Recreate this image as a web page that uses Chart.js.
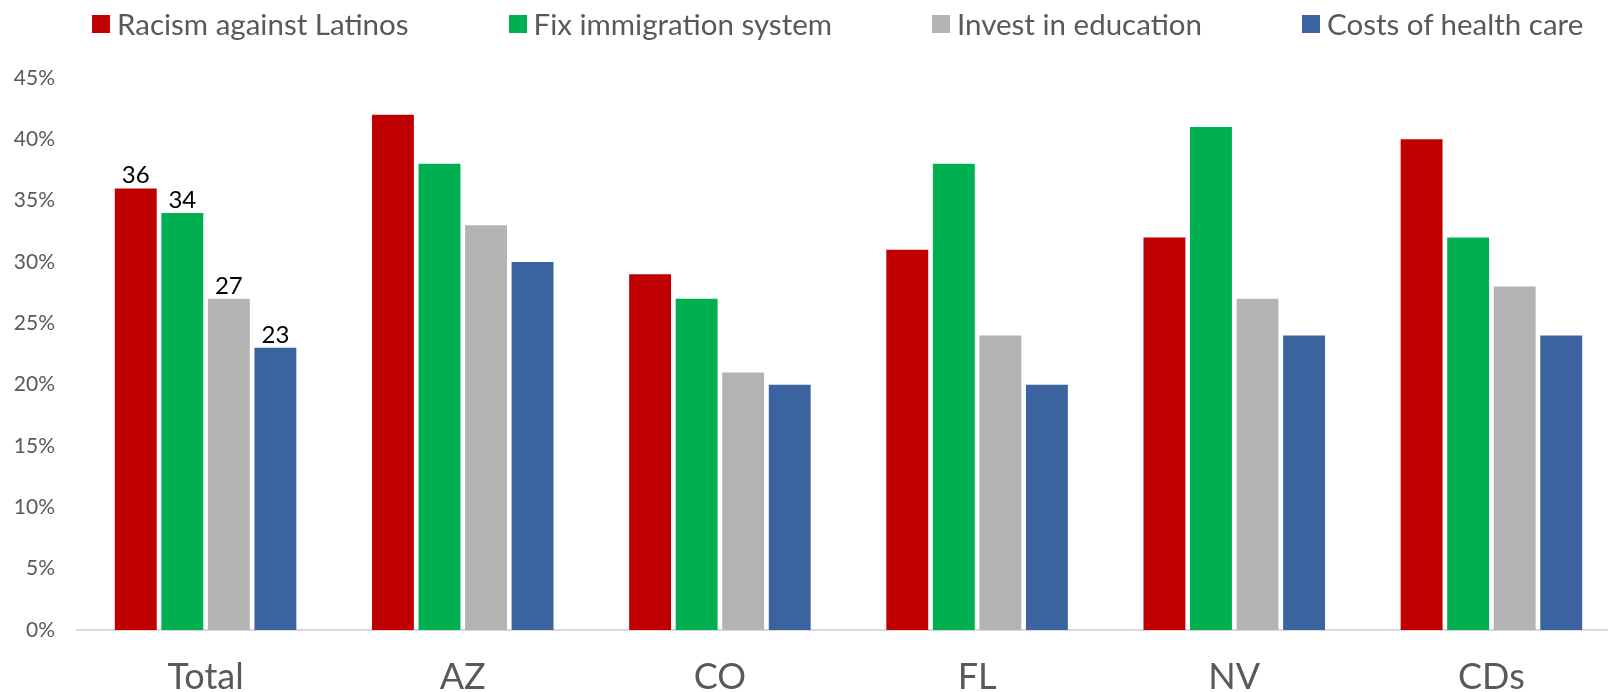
<!DOCTYPE html>
<html lang="en">

<head>
    <meta charset="UTF-8">
    <title>Priority issues</title>
    <style>
        body {
            margin: 0;
            background: #fff;
            font-family: Lato, "Open Sans", sans-serif;
        }

        /* the source picture cuts the plot off a little on the right */
        #wrap {
            position: relative;
            width: 1608px;
            height: 692px;
            overflow: hidden;
        }

        #legend {
            position: absolute;
            top: 6px;
            left: 92px;
            display: flex;
            gap: 100px;
            color: #595959;
            font-size: 29.5px;
            line-height: 36px;
            white-space: nowrap;
        }

        #legend .item {
            display: flex;
            align-items: center;
        }

        #legend .box {
            width: 18px;
            height: 18px;
            margin-right: 7px;
        }
    </style>
    <script src="https://cdn.jsdelivr.net/npm/chart.js"></script>
</head>

<body>
    <div id="wrap">
        <div id="legend"></div>
        <canvas id="chart" width="1620" height="692"></canvas>
    </div>

    <script>
        const categories = ['Total', 'AZ', 'CO', 'FL', 'NV', 'CDs'];
        const seriesNames = ['Racism against Latinos', 'Fix immigration system', 'Invest in education', 'Costs of health care'];

        const racism = [36, 42, 29, 31, 32, 40];
        const immigration = [34, 38, 27, 38, 41, 32];
        const education = [27, 33, 21, 24, 27, 28];
        const healthCare = [23, 30, 20, 20, 24, 24];

        const yTicks = [0, 5, 10, 15, 20, 25, 30, 35, 40, 45];

        const colors = ['#C00000', '#00B050', '#B3B3B3', '#3A63A0'];
        const textGray = '#595959';
        const fontName = 'Lato, "Open Sans", sans-serif';

        // numbers only over the Total group
        const labelIndex = 0;
        const totalLabels = {
            id: 'totalLabels',
            afterDatasetsDraw(chart) {
                const ctx = chart.ctx;
                ctx.save();
                ctx.fillStyle = '#000';
                ctx.font = '24px ' + fontName;
                ctx.textAlign = 'center';
                ctx.textBaseline = 'bottom';
                chart.data.datasets.forEach((ds, i) => {
                    const bar = chart.getDatasetMeta(i).data[labelIndex];
                    ctx.fillText(ds.data[labelIndex], bar.x, bar.y - 1);
                });
                ctx.restore();
            }
        };

        const values = [racism, immigration, education, healthCare];

        const chart = new Chart(document.getElementById('chart'), {
            type: 'bar',
            data: {
                labels: categories,
                datasets: seriesNames.map((name, i) => ({
                    label: name,
                    data: values[i],
                    backgroundColor: colors[i],
                    borderWidth: 0,
                    categoryPercentage: 0.724,
                    barPercentage: 0.9
                }))
            },
            options: {
                responsive: false,
                animation: false,
                layout: { padding: { left: 0, top: 78, right: 0, bottom: 0 } },
                plugins: {
                    tooltip: { enabled: false },
                    legend: { display: false }
                },
                scales: {
                    x: {
                        grid: { display: false },
                        border: { display: true, color: '#D9D9D9', width: 2 },
                        ticks: {
                            color: textGray,
                            padding: 18,
                            font: { family: fontName, size: 36 }
                        },
                        afterFit(scale) { scale.height = 62; }
                    },
                    y: {
                        min: 0,
                        max: 45,
                        grid: { display: false },
                        border: { display: false },
                        afterBuildTicks(scale) {
                            scale.ticks = yTicks.map(v => ({ value: v }));
                        },
                        ticks: {
                            color: textGray,
                            padding: 14,
                            font: { family: fontName, size: 21 },
                            callback: v => v + '%'
                        },
                        afterFit(scale) { scale.width = 77; }
                    }
                }
            },
            plugins: [totalLabels]
        });

        // html legend from the chart's own datasets
        const legend = document.getElementById('legend');
        chart.data.datasets.forEach(ds => {
            const item = document.createElement('div');
            item.className = 'item';
            item.innerHTML = `<span class="box" style="background:${ds.backgroundColor}"></span><span>${ds.label}</span>`;
            legend.appendChild(item);
        });
    </script>
</body>

</html>
